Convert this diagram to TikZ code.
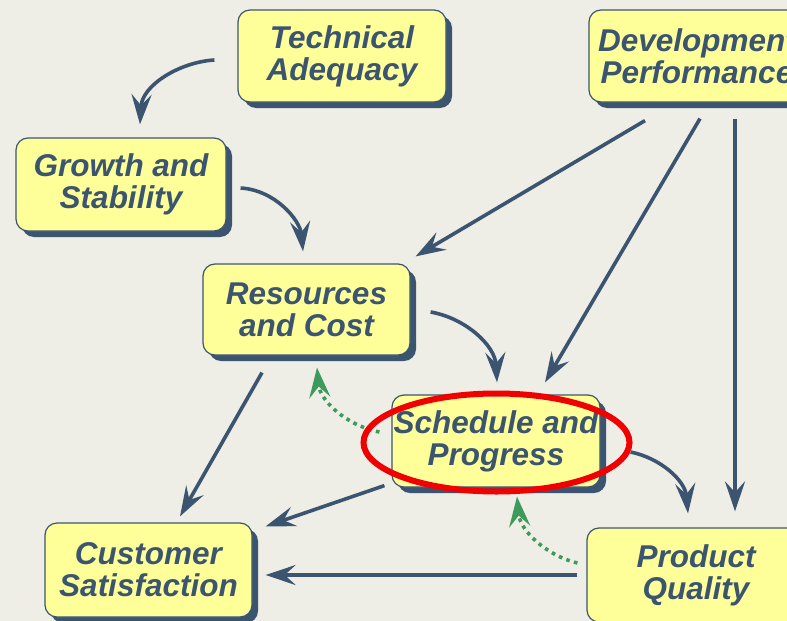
\documentclass[tikz,border=0pt]{standalone}
\usepackage{fontspec}
\setmainfont{Liberation Sans}
\usetikzlibrary{arrows.meta,calc,shadows}
\definecolor{bg}{HTML}{EEEDE6}
\definecolor{boxfill}{HTML}{FFFF99}
\definecolor{ink}{HTML}{3B5570}
\definecolor{grn}{HTML}{3E9A5A}
\definecolor{ring}{HTML}{F00000}
\tikzset{
  box/.style={draw=ink, line width=1.2pt, fill=boxfill, rounded corners=12pt,
    inner sep=0pt, align=center, text=ink,
    font=\fontsize{31.5}{32}\selectfont\bfseries\itshape,
    drop shadow={shadow xshift=6pt, shadow yshift=-6pt, fill=ink, opacity=1}},
  link/.style={draw=ink, line width=3.6pt, -{Stealth[length=30pt,width=20pt,inset=11pt]}},
  back/.style={draw=grn, line width=3.6pt, dash pattern=on 3.6pt off 4.4pt,
    -{Stealth[length=30pt,width=21pt,inset=11pt]}}
}
\begin{document}
\begin{tikzpicture}[x=1pt,y=-1pt]
\useasboundingbox (0,0) rectangle (787,621);
\fill[bg] (0,0) rectangle (787,621);
\clip (0,0) rectangle (787,621);

\node[box, minimum width=208pt, minimum height=92pt] (tech) at (342,56) {Technical\\Adequacy};
\node[box, minimum width=216pt, minimum height=92pt] (dev) at (697,56) {Development\\Performance};
\node[box, minimum width=210pt, minimum height=93pt] (growth) at (121,184.5) {Growth and\\Stability};
\node[box, minimum width=207pt, minimum height=91pt] (res) at (306.5,309.5) {Resources\\and Cost};
\node[box, minimum width=208pt, minimum height=92pt] (sched) at (496,441) {Schedule and\\Progress};
\node[box, minimum width=207pt, minimum height=94pt] (cust) at (148.5,570) {Customer\\Satisfaction};
\node[box, minimum width=218pt, minimum height=94pt] (prod) at (696,575) {Product\\Quality};

% blue connectors
\draw[link] ($(tech.west)+(-23,4)$) .. controls (180,62) and (142,85) .. ($(growth.north)+(19,-13)$);
\draw[link] ($(growth.east)+(14,3.5)$) .. controls (275,190) and (300,220) .. ($(res.north)+(-3.5,-12)$);
\draw[link] ($(dev.south)+(-52,18)$) -- ($(res.north east)+(5,-7)$);
\draw[link] ($(dev.south)+(3,16)$) -- ($(sched.north)+(49,-12)$);
\draw[link] ($(dev.south)+(38,16)$) -- ($(prod.north)+(39,-16)$);
\draw[link] ($(res.east)+(20,2.5)$) .. controls (465,318) and (495,345) .. ($(sched.north)+(1,-12)$);
\draw[link] ($(res.south)+(-44.5,17)$) -- ($(cust.north)+(31.5,-6)$);
\draw[link] ($(sched.south west)+(-7,-2)$) -- ($(cust.north east)+(13,4)$);
\draw[link] ($(sched.east)+(30,11)$) .. controls (660,458) and (685,480) .. ($(prod.north)+(-8,-14)$);
\draw[link] ($(prod.west)+(-9,0)$) -- ($(cust.east)+(13,5)$);

% green feedback connectors
\draw[back] ($(sched.west)+(-12,-9)$) .. controls (345,425) and (320,400) .. ($(res.south)+(10.5,12)$);
\draw[back] ($(prod.west)+(-9,-12)$) .. controls (545,555) and (520,530) .. ($(sched.south)+(21,9)$);

% red highlight ring
\draw[ring, line width=6pt] (496.5,442.5) ellipse [x radius=133pt, y radius=49pt];
\end{tikzpicture}
\end{document}
